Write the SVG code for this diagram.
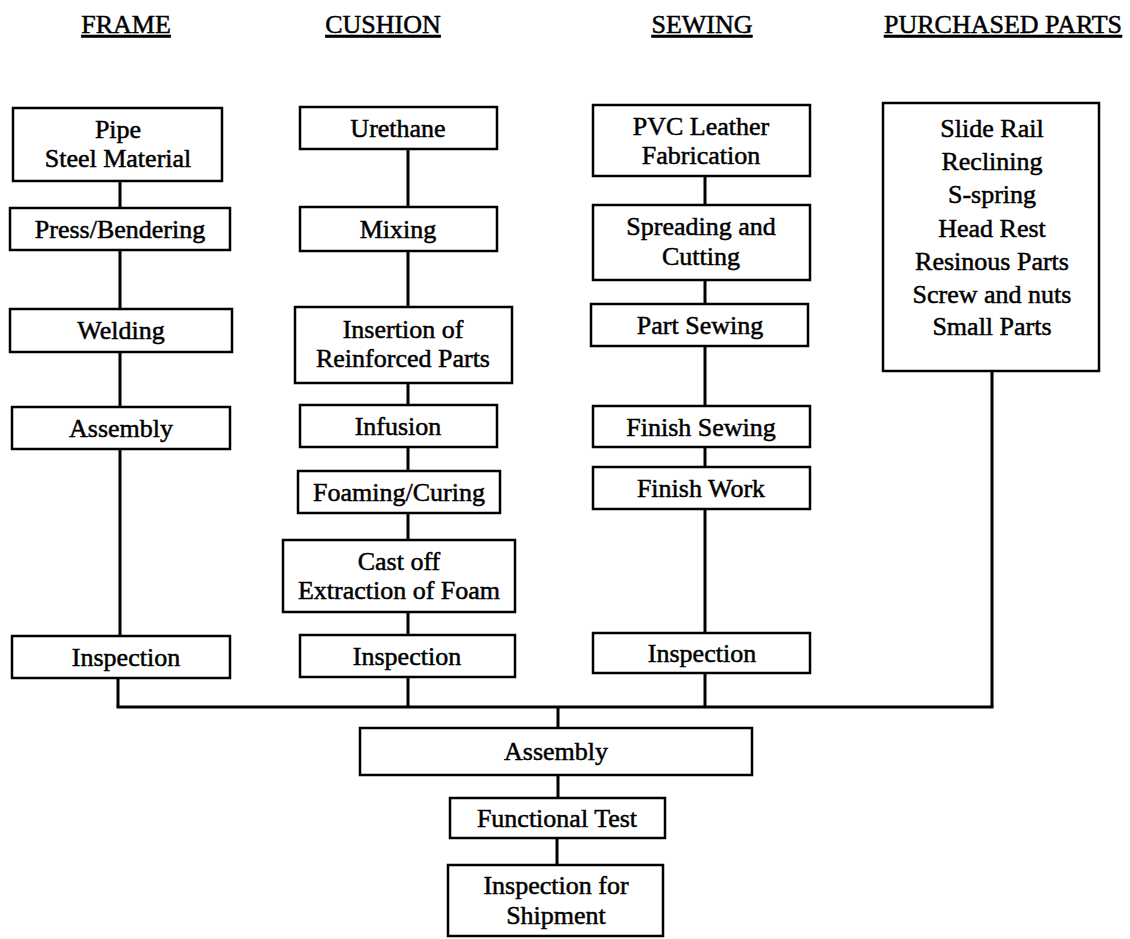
<svg xmlns="http://www.w3.org/2000/svg" width="1130" height="939" viewBox="0 0 1130 939">
<style>
.box{fill:#fff;stroke:#000;stroke-width:2.5}
.ln{stroke:#000;stroke-width:3;fill:none}
text{font-family:"Liberation Serif","Times New Roman",serif;font-size:26px;fill:#000;stroke:#000;stroke-width:0.5;text-anchor:middle}
.hd{font-size:26px;text-decoration:underline}
</style>
<rect width="1130" height="939" fill="#fff"/>
<g id="headers">
<text class="hd" x="126" y="33">FRAME</text>
<text class="hd" x="383" y="33">CUSHION</text>
<text class="hd" x="702" y="33">SEWING</text>
<text class="hd" x="1003" y="33">PURCHASED PARTS</text>
</g>
<g id="connectors">
<line class="ln" x1="120" y1="181" x2="120" y2="636"/>
<line class="ln" x1="118" y1="678" x2="118" y2="707"/>
<line class="ln" x1="408" y1="149" x2="408" y2="635"/>
<line class="ln" x1="408" y1="677" x2="408" y2="707"/>
<line class="ln" x1="705" y1="176" x2="705" y2="633"/>
<line class="ln" x1="705" y1="673" x2="705" y2="707"/>
<line class="ln" x1="992" y1="371" x2="992" y2="707"/>
<line class="ln" x1="116.5" y1="707" x2="993.5" y2="707"/>
<line class="ln" x1="558" y1="707" x2="558" y2="728"/>
<line class="ln" x1="558" y1="775" x2="558" y2="798"/>
<line class="ln" x1="557" y1="838" x2="557" y2="865"/>
</g>
<g id="pipe"><rect class="box" x="13" y="108" width="209" height="73"/><text x="118" y="138">Pipe</text><text x="118" y="167">Steel Material</text></g>
<g id="press"><rect class="box" x="10" y="208" width="220" height="42"/><text x="120" y="238">Press/Bendering</text></g>
<g id="welding"><rect class="box" x="10" y="309" width="222" height="43"/><text x="121" y="339">Welding</text></g>
<g id="frame-assembly"><rect class="box" x="12" y="407" width="218" height="42"/><text x="121" y="437">Assembly</text></g>
<g id="frame-inspection"><rect class="box" x="12" y="636" width="218" height="42"/><text x="126" y="666">Inspection</text></g>

<g id="urethane"><rect class="box" x="300" y="107" width="197" height="42"/><text x="398" y="137">Urethane</text></g>
<g id="mixing"><rect class="box" x="300" y="207" width="197" height="44"/><text x="398" y="238">Mixing</text></g>
<g id="insertion"><rect class="box" x="295" y="307" width="217" height="76"/><text x="403" y="338">Insertion of</text><text x="403" y="367">Reinforced Parts</text></g>
<g id="infusion"><rect class="box" x="300" y="405" width="197" height="42"/><text x="398" y="435">Infusion</text></g>
<g id="foaming"><rect class="box" x="298" y="471" width="202" height="42"/><text x="399" y="501">Foaming/Curing</text></g>
<g id="castoff"><rect class="box" x="283" y="540" width="232" height="72"/><text x="399" y="570">Cast off</text><text x="399" y="599">Extraction of Foam</text></g>
<g id="cushion-inspection"><rect class="box" x="300" y="635" width="215" height="42"/><text x="407" y="665">Inspection</text></g>

<g id="pvc"><rect class="box" x="593" y="105" width="217" height="71"/><text x="701" y="135">PVC Leather</text><text x="701" y="164">Fabrication</text></g>
<g id="spreading"><rect class="box" x="593" y="205" width="217" height="75"/><text x="701" y="235">Spreading and</text><text x="701" y="265">Cutting</text></g>
<g id="part-sewing"><rect class="box" x="591" y="304" width="217" height="42"/><text x="700" y="334">Part Sewing</text></g>
<g id="finish-sewing"><rect class="box" x="593" y="406" width="217" height="41"/><text x="701" y="436">Finish Sewing</text></g>
<g id="finish-work"><rect class="box" x="593" y="467" width="217" height="42"/><text x="701" y="497">Finish Work</text></g>
<g id="sewing-inspection"><rect class="box" x="593" y="633" width="217" height="40"/><text x="702" y="662">Inspection</text></g>

<g id="purchased"><rect class="box" x="883" y="103" width="216" height="268"/>
<text x="992" y="137">Slide Rail</text>
<text x="992" y="170">Reclining</text>
<text x="992" y="203">S-spring</text>
<text x="992" y="237">Head Rest</text>
<text x="992" y="270">Resinous Parts</text>
<text x="992" y="303">Screw and nuts</text>
<text x="992" y="335">Small Parts</text>
</g>

<g id="assembly"><rect class="box" x="360" y="728" width="392" height="47"/><text x="556" y="760">Assembly</text></g>
<g id="functional-test"><rect class="box" x="450" y="798" width="215" height="40"/><text x="557" y="827">Functional Test</text></g>
<g id="shipment"><rect class="box" x="448" y="865" width="215" height="71"/><text x="556" y="894">Inspection for</text><text x="556" y="924">Shipment</text></g>
</svg>
